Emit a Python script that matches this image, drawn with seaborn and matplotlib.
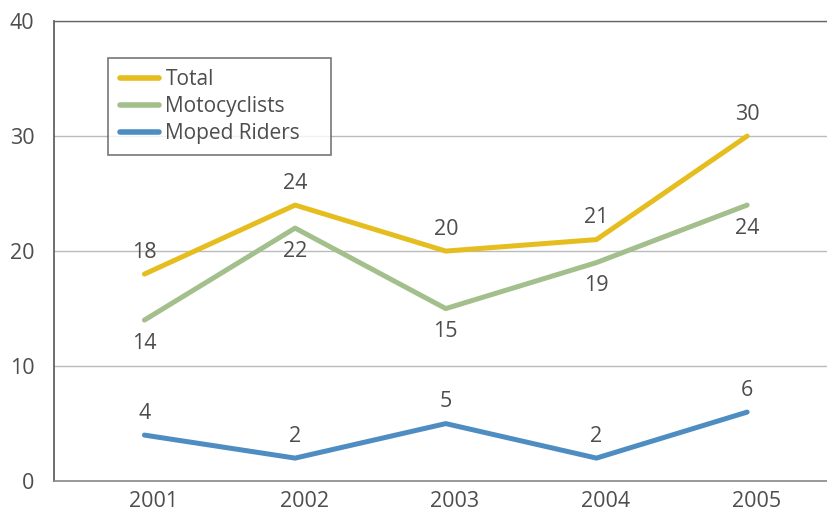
import pandas as pd
import numpy as np
import matplotlib.pyplot as plt
import matplotlib.transforms as mtrans
import seaborn as sns

years = ['2001', '2002', '2003', '2004', '2005']
total = [18, 24, 20, 21, 30]
motocyclists = [14, 22, 15, 19, 24]
moped_riders = [4, 2, 5, 2, 6]

series_names = ['Total', 'Motocyclists', 'Moped Riders']
palette = {'Total': '#E6BD1E', 'Motocyclists': '#A3BF8C', 'Moped Riders': '#4E8DC2'}

df = pd.DataFrame({
    'year': years * 3,
    'x': list(range(len(years))) * 3,
    'value': total + motocyclists + moped_riders,
    'series': [s for s in series_names for _ in years],
})

sns.set_style('white')
plt.rcParams['font.family'] = ['Open Sans', 'DejaVu Sans']
text_color = '#4D4D4D'
fs = 15.5

fig = plt.figure(figsize=(8.27, 5.14), dpi=100)
ax = fig.add_axes([0.0653, 0.064, 0.9347, 0.895])

sns.lineplot(data=df, x='x', y='value', hue='series', hue_order=series_names,
             palette=palette, linewidth=3.6, ax=ax, legend=True)

# value labels: above for Total and Moped, below for Motocyclists
for name, vals, dy, va in [('Total', total, 8, 'bottom'),
                           ('Motocyclists', motocyclists, -9, 'top'),
                           ('Moped Riders', moped_riders, 8, 'bottom')]:
    for i, v in enumerate(vals):
        ax.annotate(str(v), (i, v), xytext=(0, dy), textcoords='offset points',
                    ha='center', va=va, fontsize=fs, color=text_color)

ax.set_xlim(-0.6, 4.53)
ax.set_ylim(0, 40)
ax.set_yticks([0, 10, 20, 30, 40])
ax.set_xticks(range(len(years)))
ax.set_xticklabels(years)
ax.tick_params(axis='x', length=0, pad=7, labelsize=fs, labelcolor=text_color)
ax.tick_params(axis='y', length=12, width=1, color='#999999', pad=2,
               labelsize=fs, labelcolor=text_color)
# shift x tick labels slightly right as in the reference
offset = mtrans.ScaledTranslation(9 / 100, 0, fig.dpi_scale_trans)
for lbl in ax.get_xticklabels():
    lbl.set_transform(lbl.get_transform() + offset)

ax.grid(axis='y', color='#BBBBBB', linewidth=1)
ax.grid(axis='x', visible=False)
ax.set_axisbelow(True)
ax.set_xlabel('')
ax.set_ylabel('')

ax.spines['right'].set_visible(False)
ax.spines['left'].set_color('#555555')
ax.spines['left'].set_linewidth(1.2)
ax.spines['top'].set_color('#666666')
ax.spines['top'].set_linewidth(1)
ax.spines['bottom'].set_color('#888888')
ax.spines['bottom'].set_linewidth(1.2)

leg = ax.legend(loc='upper left', bbox_to_anchor=(0.07, 0.72, 0.2885, 0.2),
                mode='expand', frameon=True,
                fancybox=False, edgecolor='#555555', fontsize=15,
                handlelength=1.9, handletextpad=0.3, labelspacing=0.28,
                borderpad=0.55, borderaxespad=0)
leg.get_frame().set_linewidth(1.2)
leg.get_frame().set_facecolor('white')
for t in leg.get_texts():
    t.set_color(text_color)
for h in leg.get_lines():
    h.set_linewidth(4)

fig.savefig('out.png', dpi=100)
